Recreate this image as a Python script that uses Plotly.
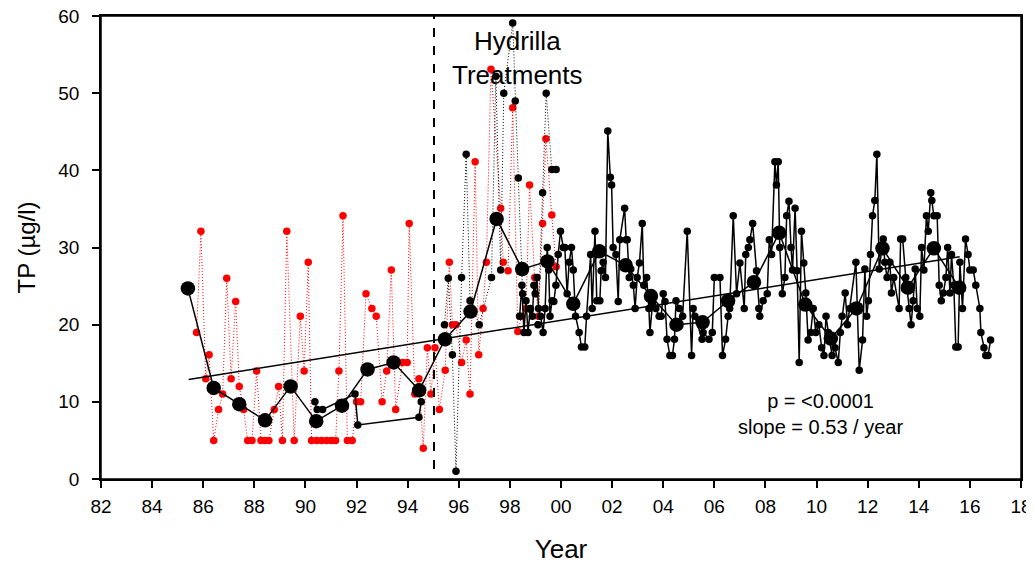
import plotly.graph_objects as go

# ---------------- data ----------------
# Red station, dotted red line (1985-1999)
red_year = [85.74, 85.91, 86.10, 86.23, 86.41, 86.60, 86.76, 86.92, 87.09, 87.27, 87.41, 87.58,
            87.74, 87.91, 88.09, 88.26, 88.42, 88.57, 88.78, 88.95, 89.10, 89.27, 89.56, 89.80,
            89.95, 90.11, 90.24, 90.44, 90.63, 90.83, 91.02, 91.18, 91.31, 91.47, 91.64, 91.83,
            92.00, 92.16, 92.37, 92.60, 92.77, 93.00, 93.18, 93.36, 93.53, 93.80, 93.98, 94.06,
            94.28, 94.44, 94.61, 94.77, 94.91, 95.07, 95.24, 95.47, 95.63, 95.75, 95.89, 96.11,
            96.29, 96.44, 96.64, 96.78, 96.95, 97.08, 97.26, 97.64, 97.74, 97.93, 98.11, 98.31,
            98.46, 98.63, 98.77, 98.97, 99.12, 99.28, 99.41, 99.64, 99.81]
red_tp = [19.0, 32.1, 13.0, 16.1, 5.0, 9.0, 11.0, 26.0, 13.0, 23.0, 12.0, 9.0,
          5.0, 5.0, 14.0, 5.0, 5.0, 5.0, 9.0, 12.0, 5.0, 32.1, 5.0, 21.1,
          14.0, 28.1, 5.0, 5.0, 5.0, 5.0, 5.0, 5.0, 14.0, 34.1, 5.0, 5.0,
          10.0, 10.0, 24.0, 22.1, 21.1, 10.0, 14.0, 27.1, 9.0, 15.1, 15.1, 33.1,
          11.0, 13.0, 4.0, 17.0, 11.0, 17.0, 9.0, 14.1, 28.1, 20.0, 20.0, 15.1,
          18.0, 11.0, 41.1, 16.1, 22.1, 28.1, 53.1, 35.1, 28.1, 27.0, 48.1, 19.1,
          21.1, 22.1, 38.1, 26.1, 21.1, 33.1, 44.1, 34.2, 27.5]

# Black station, solid line (1990-1994)
blk1_year = [90.37, 90.46, 90.67, 91.94, 92.05, 94.44, 94.53]
blk1_tp = [10.0, 9.0, 9.0, 11.0, 7.0, 8.0, 10.0]

# Black station, dotted line (1995-2000)
blkdot_year = [95.44, 95.59, 95.75, 95.89, 96.11, 96.29, 96.44, 96.80, 97.28, 97.45, 97.64,
               97.76, 98.11, 98.21, 98.33, 98.50, 98.80, 99.10, 99.28, 99.42, 99.64, 99.81]
blkdot_tp = [20.0, 26.0, 16.1, 1.0, 26.1, 42.1, 23.1, 20.0, 26.1, 52.2, 27.1,
             50.0, 59.1, 49.0, 39.0, 24.0, 22.0, 20.0, 37.1, 50.0, 40.1, 40.1]

# Black station, solid line (1998-2016)
blk2_year = [98.38, 98.47, 98.55, 98.63, 98.71, 98.80, 98.88, 98.94, 98.99, 99.06, 99.12, 99.20,
             99.30, 99.38, 99.46, 99.52, 99.57, 99.65, 99.72, 99.80, 99.89, 99.98, 100.09, 100.15,
             100.24, 100.32, 100.41, 100.48, 100.57, 100.71, 100.80, 100.93, 101.00, 101.16, 101.22,
             101.33, 101.40, 101.52, 101.57, 101.65, 101.74, 101.83, 101.93, 101.98, 102.04, 102.15,
             102.24, 102.30, 102.49, 102.55, 102.59, 102.67, 102.73, 102.83, 102.90, 102.98, 103.07,
             103.18, 103.24, 103.35, 103.44, 103.48, 103.58, 103.71, 103.84, 103.92, 104.00, 104.07,
             104.15, 104.26, 104.36, 104.44, 104.50, 104.63, 104.76, 104.94, 105.11, 105.17, 105.24,
             105.52, 105.56, 105.79, 105.92, 106.00, 106.22, 106.32, 106.44, 106.54, 106.60, 106.74,
             106.87, 107.00, 107.17, 107.23, 107.33, 107.39, 107.50, 107.65, 107.74, 107.78, 107.91,
             108.07, 108.15, 108.24, 108.37, 108.43, 108.50, 108.56, 108.66, 108.76, 108.83, 108.92,
             109.00, 109.06, 109.16, 109.24, 109.32, 109.41, 109.50, 109.58, 109.67, 109.77, 109.87,
             109.97, 110.09, 110.20, 110.29, 110.37, 110.46, 110.61, 110.72, 110.85, 110.93, 111.00,
             111.12, 111.21, 111.30, 111.54, 111.67, 111.80, 111.89, 111.96, 112.03, 112.11, 112.19,
             112.28, 112.36, 112.45, 112.61, 112.67, 112.76, 112.87, 112.93, 113.02, 113.23, 113.29,
             113.37, 113.49, 113.62, 113.70, 113.78, 113.86, 113.94, 114.04, 114.11, 114.20, 114.30,
             114.37, 114.47, 114.51, 114.59, 114.72, 114.80, 114.88, 114.96, 115.06, 115.13, 115.22,
             115.28, 115.37, 115.45, 115.54, 115.61, 115.71, 115.83, 115.93, 116.00, 116.13, 116.23,
             116.39, 116.43, 116.55, 116.62, 116.71, 116.81]
blk2_tp = [21.1, 25.1, 19.0, 23.1, 19.0, 22.1, 21.1, 25.1, 24.0, 26.1, 22.1, 21.1,
           19.0, 22.1, 30.0, 27.1, 21.1, 23.1, 23.0, 25.1, 29.1, 32.1, 30.0, 30.0,
           24.0, 28.1, 30.0, 27.1, 21.1, 19.0, 17.1, 17.1, 21.1, 29.1, 22.1,
           32.1, 23.1, 23.1, 27.0, 28.1, 26.1, 45.1, 39.1, 38.1, 30.0, 29.1,
           23.0, 31.0, 35.1, 31.0, 31.0, 26.1, 27.2, 25.1, 22.1, 26.1, 28.0,
           33.1, 25.1, 26.1, 22.1, 19.0, 22.7, 22.1, 21.1, 21.1, 24.0, 23.0,
           18.1, 16.0, 16.0, 18.1, 23.1, 22.1, 21.1, 32.1, 16.0, 22.1, 21.1,
           18.1, 19.0, 18.1, 19.0, 26.1, 26.1, 16.0, 18.1, 21.1, 22.1, 34.1,
           24.0, 28.0, 22.1, 29.1, 30.0, 31.0, 33.1, 27.0, 22.1, 21.1, 23.1,
           24.0, 31.0, 29.1, 41.1, 38.1, 41.1, 30.0, 24.0, 26.1, 34.1, 36.0,
           30.0, 27.1, 35.1, 27.0, 15.1, 32.1, 28.0, 24.1, 18.0, 19.0, 22.1,
           19.0, 20.0, 17.0, 16.0, 21.1, 19.0, 16.0, 17.0, 15.1, 19.0, 21.1,
           24.1, 20.0, 22.1, 28.1, 14.1, 18.0, 27.2, 21.1, 23.1, 29.1, 34.1,
           36.1, 42.1, 27.2, 31.1, 28.1, 26.1, 28.1, 24.1, 26.1, 22.1, 31.1,
           31.1, 26.1, 22.1, 20.0, 23.1, 27.2, 22.1, 21.1, 30.0, 27.1, 34.1,
           32.1, 37.1, 36.1, 34.1, 34.1, 25.1, 23.1, 24.1, 26.1, 30.0, 24.1,
           29.1, 25.1, 17.1, 17.1, 28.1, 22.1, 31.1, 29.1, 27.1, 27.1, 25.1,
           22.1, 19.0, 17.0, 16.0, 16.0, 18.0]

# Annual means (large black dots)
mean_year = [85.40, 86.41, 87.41, 88.42, 89.42, 90.42, 91.43, 92.43, 93.45, 94.45, 95.46,
             96.46, 97.48, 98.48, 99.47, 100.48, 101.50, 102.53, 103.52, 104.52, 105.54,
             106.54, 107.55, 108.54, 109.56, 110.56, 111.56, 112.58, 113.57, 114.59, 115.58]
mean_tp = [24.7, 11.8, 9.7, 7.6, 12.0, 7.5, 9.5, 14.2, 15.1, 11.5, 18.1,
           21.7, 33.7, 27.2, 28.2, 22.7, 29.5, 27.7, 23.7, 20.0, 20.3,
           23.1, 25.5, 31.9, 22.6, 18.2, 22.1, 29.9, 24.8, 29.9, 24.8]

# Trend line end points
reg_year = [85.43, 115.6]
reg_tp = [12.9, 28.8]

# Start of Hydrilla treatments
treat_year = [95.03, 95.03]
treat_tp = [1.3, 60.0]

x_ticks = list(range(82, 119, 2))
x_labels = ["82", "84", "86", "88", "90", "92", "94", "96", "98", "00", "02", "04",
            "06", "08", "10", "12", "14", "16", "18"]

FONT = "Liberation Sans, Arial, sans-serif"

fig = go.Figure()

fig.add_trace(go.Scatter(x=red_year, y=red_tp, mode="lines+markers",
                         line=dict(color="#ff0000", width=1, dash="1px,2px"),
                         marker=dict(color="#ff0000", size=7.5), showlegend=False))
fig.add_trace(go.Scatter(x=blkdot_year, y=blkdot_tp, mode="lines+markers",
                         line=dict(color="black", width=1, dash="1px,2px"),
                         marker=dict(color="black", size=7.5), showlegend=False))
fig.add_trace(go.Scatter(x=blk1_year, y=blk1_tp, mode="lines+markers",
                         line=dict(color="black", width=1.5),
                         marker=dict(color="black", size=7.5), showlegend=False))
fig.add_trace(go.Scatter(x=blk2_year, y=blk2_tp, mode="lines+markers",
                         line=dict(color="black", width=1.5),
                         marker=dict(color="black", size=7.5), showlegend=False))
fig.add_trace(go.Scatter(x=mean_year, y=mean_tp, mode="lines+markers",
                         line=dict(color="black", width=1.5),
                         marker=dict(color="black", size=14.5), showlegend=False))
fig.add_trace(go.Scatter(x=reg_year, y=reg_tp, mode="lines",
                         line=dict(color="black", width=1.5), showlegend=False))
fig.add_trace(go.Scatter(x=treat_year, y=treat_tp, mode="lines",
                         line=dict(color="black", width=2, dash="dash"), showlegend=False))

fig.add_annotation(x=98.3, y=54.6, xref="x", yref="y", text="Hydrilla<br>Treatments",
                   showarrow=False, font=dict(family=FONT, size=26, color="black"),
                   xanchor="center", yanchor="middle")
fig.add_annotation(x=110.17, y=8.4, xref="x", yref="y", text="p = <0.0001<br>slope = 0.53 / year",
                   showarrow=False, font=dict(family=FONT, size=20, color="black"),
                   xanchor="center", yanchor="middle")

# Frame around the plotting area
fig.add_shape(type="rect", xref="paper", yref="paper", x0=0, y0=0, x1=1, y1=1,
              line=dict(color="black", width=1.5), fillcolor="rgba(0,0,0,0)", layer="above")

axis_common = dict(showgrid=False, zeroline=False, showline=True, linecolor="black",
                   linewidth=1.5, mirror=True, ticks="outside", ticklen=7, tickwidth=1.5,
                   tickcolor="black", automargin=False, ticklabeloverflow="allow",
                   tickfont=dict(family=FONT, size=19, color="black"))

fig.update_xaxes(range=[82, 118], tickmode="array", tickvals=x_ticks, ticktext=x_labels,
                 ticklabelstandoff=2,
                 title=dict(text="Year", font=dict(family=FONT, size=26, color="black"), standoff=24),
                 **axis_common)
fig.update_yaxes(range=[0, 60], tickmode="array", tickvals=[0, 10, 20, 30, 40, 50, 60],
                 ticklabelstandoff=9,
                 title=dict(text="TP (µg/l)", font=dict(family=FONT, size=24, color="black"), standoff=16),
                 **axis_common)

# The page body adds an 8px offset, so the figure is sized to fit the window.
fig.update_layout(width=1026, height=556, margin=dict(l=93, r=13, t=8, b=85),
                  plot_bgcolor="white", paper_bgcolor="white", showlegend=False,
                  font=dict(family=FONT, color="black"))

fig.write_html("out.html")
